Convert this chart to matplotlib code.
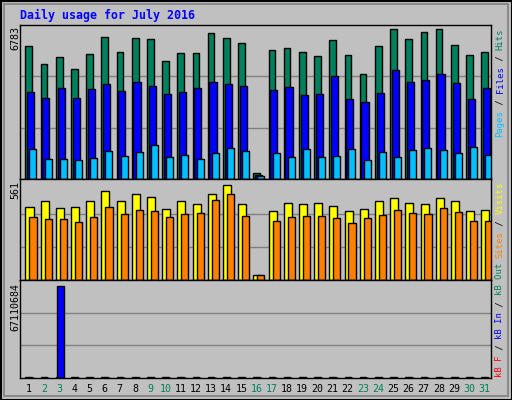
import matplotlib
matplotlib.use("Agg")
import matplotlib.pyplot as plt
import numpy as np
from matplotlib.patches import Rectangle

days = list(range(1, 32))
day_labels = [str(d) for d in days]
weekend_days = [2, 3, 9, 10, 16, 17, 23, 24, 30, 31]

hits = [5874, 5071, 5383, 4848, 5517, 6275, 5606, 6231, 6186, 5205, 5562, 5562, 6409, 6231, 6008, 254,
        5695, 5785, 5606, 5428, 6141, 5472, 4625, 5874, 6587, 6186, 6454, 6587, 5918, 5472, 5606]
files = [3822, 3555, 4000, 3555, 3956, 4179, 3867, 4268, 4090, 3733, 3822, 4000, 4268, 4179, 4090, 192,
         3911, 4045, 3688, 3733, 4536, 3510, 3376, 3778, 4803, 4268, 4357, 4625, 4224, 3510, 4000]
pages = [1325, 879, 879, 834, 923, 1235, 1012, 1191, 1503, 968, 1057, 879, 1146, 1369, 1235, 134,
         1146, 968, 1325, 968, 1012, 1325, 834, 1191, 968, 1280, 1369, 1280, 1146, 1414, 1057]
visits = [416, 445, 410, 416, 450, 502, 450, 490, 473, 405, 450, 428, 490, 536, 428, 29,
          393, 439, 428, 439, 422, 393, 405, 445, 462, 439, 433, 467, 445, 393, 399]
sites = [359, 348, 348, 331, 359, 416, 376, 399, 393, 359, 376, 382, 456, 490, 365, 29,
         336, 359, 365, 365, 353, 325, 353, 371, 399, 382, 376, 410, 388, 336, 336]
kb_in = [0, 0, 67110684] + [0] * 28
kb_out = [400000] * 31
kb_f = [0] * 31
max_hits, max_visits, max_kb = 6783, 561, 67110684

W, H = 512, 400
fig = plt.figure(figsize=(W / 100, H / 100), dpi=100, facecolor="#C0C0C0")

def ax_at(x0, y0, x1, y1):
    a = fig.add_axes([x0 / W, 1 - y1 / H, (x1 - x0) / W, (y1 - y0) / H])
    a.set_facecolor("#C0C0C0")
    a.set_xlim(0.5, 31.5)
    a.set_xticks([]); a.set_yticks([])
    for s in a.spines.values():
        s.set_color("black"); s.set_linewidth(1)
    return a

x = np.array(days)
ec = dict(edgecolor="black", linewidth=1)

a1 = ax_at(20, 25, 491, 179)
a1.set_ylim(0, max_hits)
for g in (max_hits / 3, 2 * max_hits / 3):
    a1.axhline(g, color="#808080", lw=1, zorder=0)
a1.bar(x + 0.08, hits, width=0.44, color="#00805C", **ec)
a1.bar(x + 0.205, files, width=0.47, color="#0000FF", **ec)
a1.bar(x + 0.35, pages, width=0.46, color="#00C0FF", **ec)

a2 = ax_at(20, 179, 491, 280)
a2.set_ylim(0, max_visits * 1.02)
for g in (max_visits / 3, 2 * max_visits / 3):
    a2.axhline(g, color="#808080", lw=1, zorder=0)
a2.bar(x + 0.125, visits, width=0.53, color="#FFFF00", **ec)
a2.bar(x + 0.355, sites, width=0.47, color="#FF8000", **ec)

a3 = ax_at(20, 280, 491, 378)
a3.set_ylim(0, max_kb * 1.06)
for g in (max_kb * 1.06 / 3, 2 * max_kb * 1.06 / 3):
    a3.axhline(g, color="#808080", lw=1, zorder=0)
a3.bar(x + 0.08, kb_out, width=0.44, color="#00805C", **ec)
a3.bar(x + 0.18, kb_in, width=0.44, color="#0000FF", **ec)
a3.bar(x + 0.18, kb_f, width=0.44, color="#FF0000", **ec)

mono = "DejaVu Sans Mono"
fig.text(20 / W, 1 - 15 / H, "Daily usage for July 2016", color="#0000FF", family=mono,
         fontweight="bold", fontsize=8.4, va="center", ha="left")

for ylab, ytop in (("6783", 26), ("561", 181), ("67110684", 283)):
    fig.text(15 / W, 1 - ytop / H, ylab, rotation=90, family=mono, fontsize=7.2,
             va="top", ha="center", color="black")

for d, lab in zip(days, day_labels):
    px = 20 + (d - 0.5) * (471 / 31) + 1
    fig.text(px / W, 1 - 389 / H, lab, family=mono, fontsize=7.2, ha="center", va="center",
             color="#00805C" if d in weekend_days else "black")

def vlabel(parts, ybottom, xc=500):
    adv = 5.45
    y = ybottom
    for txt, col in parts:
        fig.text(xc / W, 1 - y / H, txt, rotation=90, family=mono, fontsize=6.4,
                 color=col, ha="center", va="bottom")
        y -= adv * len(txt)

vlabel([("Pages", "#00C0FF"), (" / ", "black"), ("Files", "#0000FF"), (" / ", "black"),
        ("Hits", "#00805C")], 137)
vlabel([("Sites", "#FF8000"), (" / ", "black"), ("Visits", "#FFFF00")], 258)
vlabel([("kB F", "#FF0000"), (" / ", "black"), ("kB In", "#0000FF"), (" / ", "black"),
        ("kB Out", "#00805C")], 377)

fig.patches.append(Rectangle((0.5 / W, 0.5 / H), (W - 1) / W, (H - 1) / H, transform=fig.transFigure,
                             fill=False, edgecolor="black", lw=1.5))
fig.patches.append(Rectangle((4 / W, 4 / H), (W - 8) / W, (H - 8) / H, transform=fig.transFigure,
                             fill=False, edgecolor="#808080", lw=1.2))

fig.savefig("out.png", dpi=100, facecolor="#C0C0C0")
